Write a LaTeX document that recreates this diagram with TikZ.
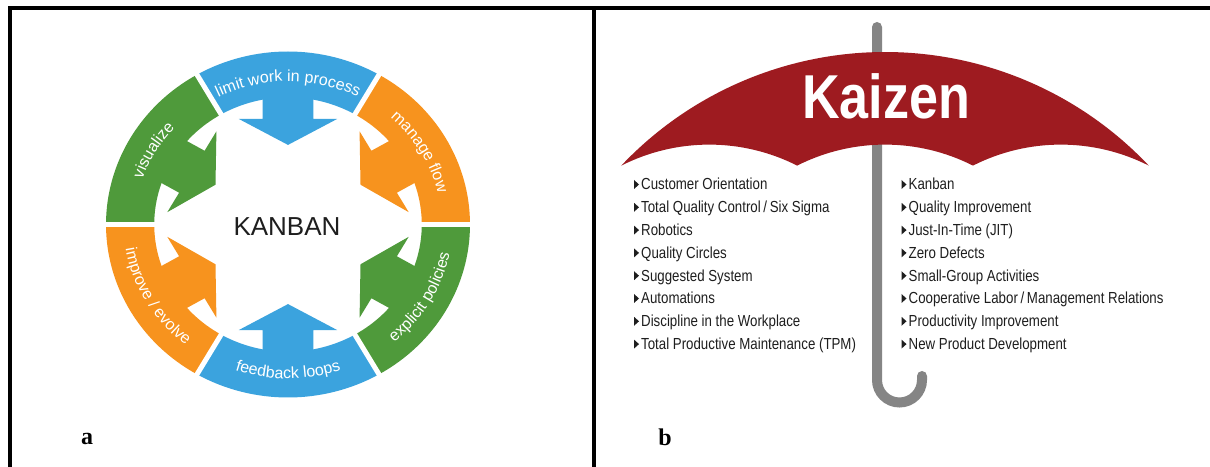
\documentclass[tikz,border=0pt]{standalone}
\usepackage{fontspec}
\usetikzlibrary{decorations.text}
\newfontfamily\hv{Liberation Sans}
\newfontfamily\hvn[FakeStretch=0.83]{Liberation Sans}
\newfontfamily\hvk[FakeStretch=0.84]{Liberation Sans}
\newfontfamily\tms{Liberation Serif}
\definecolor{kblue}{HTML}{3BA3DE}
\definecolor{korange}{HTML}{F7931E}
\definecolor{kgreen}{HTML}{4F9A3B}
\definecolor{kred}{HTML}{9E1B20}
\definecolor{kpole}{HTML}{858585}
\definecolor{ktext}{HTML}{1E1E1E}
\begin{document}
\begin{tikzpicture}[x=1pt,y=1pt,
  frameline/.style={line width=3.5pt, black},
  ringtext/.style={decorate, decoration={text along path, text align=center, text color=white,
      text={|\hv\fontsize{16}{16}\selectfont|#1}}},
  item/.style={anchor=base west, inner sep=0pt, font=\hvn\fontsize{16}{19}\selectfont, text=ktext},
  marker/.style={fill=ktext},
  panellabel/.style={font=\tms\bfseries\fontsize{24}{24}\selectfont, text=black, inner sep=0pt}]
\useasboundingbox (0,0) rectangle (1210,466);
\fill[white] (0,0) rectangle (1210,466);

% ---------- panel a: Kanban ring ----------
\begin{scope}[shift={(288,241.5)}, xscale=182, yscale=173]
  \foreach \a/\c in {90/kblue, 30/korange, -30/kgreen, -90/kblue, -150/korange, 150/kgreen} {
    \fill[\c] (\a-30:1) arc[start angle=\a-30, end angle=\a+30, radius=1]
      -- (\a+30:0.735) arc[start angle=\a+30, end angle=\a-30, radius=0.735] -- cycle;
    \fill[\c, rotate=\a] (0.8,0.14) -- (0.61,0.14) -- (0.61,0.27) -- (0.46,0)
      -- (0.61,-0.27) -- (0.61,-0.14) -- (0.8,-0.14) -- cycle;
  }
  \foreach \a in {0,60,...,300} \draw[white, line width=5pt] (\a:0.7) -- (\a:1.05);
\end{scope}

\begin{scope}[shift={(288,241.5)}]
  \path[ringtext={limit work in process}] (125:153.5pt and 143pt)
    arc[start angle=125, end angle=55, x radius=153.5pt, y radius=143pt];
  \path[ringtext={manage flow}] (65:153.5pt and 143pt)
    arc[start angle=65, end angle=-5, x radius=153.5pt, y radius=143pt];
  \path[ringtext={visualize}] (185:153.5pt and 143pt)
    arc[start angle=185, end angle=115, x radius=153.5pt, y radius=143pt];
  \path[ringtext={feedback loops}] (235:164.5pt and 154pt)
    arc[start angle=235, end angle=305, x radius=164.5pt, y radius=154pt];
  \path[ringtext={explicit policies}] (-65:164.5pt and 154pt)
    arc[start angle=-65, end angle=5, x radius=164.5pt, y radius=154pt];
  \path[ringtext={improve / evolve}] (175:164.5pt and 154pt)
    arc[start angle=175, end angle=245, x radius=164.5pt, y radius=154pt];
\end{scope}

\node[font=\hv\fontsize{26}{26}\selectfont, text=ktext] (kanban) at (287,239) {KANBAN};

% ---------- panel b: Kaizen umbrella ----------
\draw[kpole, line width=10pt, line cap=round] (877,439) -- (877,86)
  arc[start angle=180, end angle=360, radius=22.5] -- (922,90);
\fill[kred] (621.3,300.4) arc[start angle=136.6, end angle=43.4, radius=363]
  arc[start angle=63.13, end angle=116.87, radius=194.5]
  arc[start angle=63.13, end angle=116.87, radius=194.5]
  arc[start angle=63.13, end angle=116.87, radius=194.5] -- cycle;
\node[font=\hvk\bfseries\fontsize{62}{62}\selectfont, text=white] (kaizen) at (886,369.5) {Kaizen};

\foreach \t [count=\i] in {Customer Orientation, Total Quality Control\thinspace/\thinspace Six Sigma,
    Robotics, Quality Circles, Suggested System, Automations, Discipline in the Workplace,
    Total Productive Maintenance (TPM)} {
  \node[item] (L\i) at (641,{276-22.8*(\i-1)}) {\t};
  \fill[marker] ([xshift=-7pt,yshift=1pt]L\i.base west) -- ++(0,9) -- ++(5,-4.5) -- cycle;
}
\foreach \t [count=\i] in {Kanban, Quality Improvement, Just-In-Time (JIT), Zero Defects,
    Small-Group Activities, Cooperative Labor\thinspace/\thinspace Management Relations,
    Productivity Improvement, New Product Development} {
  \node[item] (R\i) at (908.5,{276-22.8*(\i-1)}) {\t};
  \fill[marker] ([xshift=-7pt,yshift=1pt]R\i.base west) -- ++(0,9) -- ++(5,-4.5) -- cycle;
}

% ---------- frame and labels ----------
\draw[frameline] (10,-5) -- (10,458) -- (1215,458);
\draw[frameline] (594,458) -- (594,-5);
\node[panellabel] (la) at (87,27.5) {a};
\node[panellabel] (lb) at (665,29) {b};
\end{tikzpicture}
\end{document}
